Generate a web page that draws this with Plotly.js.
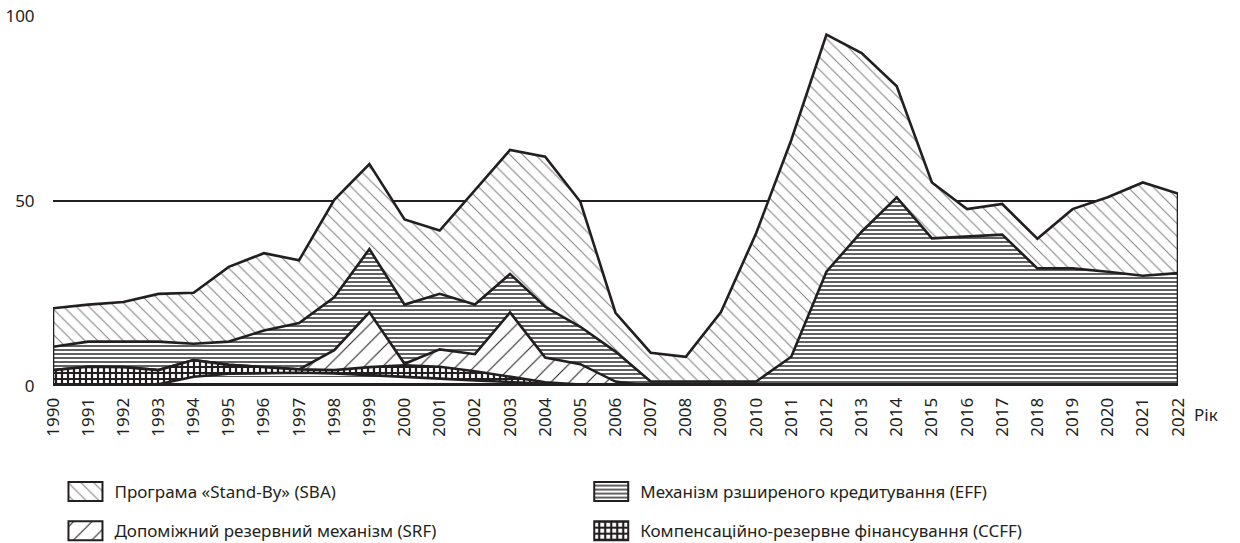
<!DOCTYPE html>
<html><head><meta charset="utf-8">
<script src="https://cdn.plot.ly/plotly-3.0.1.min.js"></script>
<style>html,body{margin:0;padding:0;background:#fff}</style>
</head><body>
<div id="chart" style="width:1240px;height:543px"></div>
<script>
// ---- data (per programme, stacked in the picture) ----
const years = [1990,1991,1992,1993,1994,1995,1996,1997,1998,1999,2000,2001,2002,2003,2004,2005,2006,2007,2008,2009,2010,2011,2012,2013,2014,2015,2016,2017,2018,2019,2020,2021,2022];
const sba   = [10.4,10,10.7,12.9,13.8,20.2,20.9,17,26.3,23,23,17.1,31,33.5,40.6,33.8,10.5,7.8,6.7,18.8,40.1,58.6,64.1,48.3,30,15.1,7.4,8.3,8,16,20.1,25.2,21.5];
const eff   = [6.3,6.8,6.9,7.7,4.4,6.3,9.9,12.5,14.3,17.1,16,15,13.4,10.4,13.7,10.1,8.1,1.2,1.2,1.2,1.2,7.9,30.9,41.7,51,39.9,40.4,40.9,31.8,31.8,30.9,29.8,30.5];
const srf   = [0,0,0,0,0,0,0,0,5.4,14.8,0.4,4.7,4.6,17.4,6.7,5.5,1.2,0,0,0,0,0,0,0,0,0,0,0,0,0,0,0,0];
const ccff  = [4.3,5.2,5.1,3.8,4.5,2.4,1.6,0.9,0.9,2.1,3.1,3.2,2.5,1.5,0.5,0.2,0,0,0,0,0,0,0,0,0,0,0,0,0,0,0,0,0];
const other = [0,0,0,0.5,2.5,3.3,3.5,3.6,3.4,3.0,2.5,2.0,1.5,1.0,0.5,0.2,0,0,0,0,0,0,0,0,0,0,0,0,0,0,0,0,0];
const yTickVals = [0,50,100];
const names = {
  sba: 'Програма «Stand-By» (SBA)',
  eff: 'Механізм рзширеного кредитування (EFF)',
  srf: 'Допоміжний резервний механізм (SRF)',
  ccff: 'Компенсаційно-резервне фінансування (CCFF)',
  other: 'Інше'
};
const xTitle = 'Рік';

// ---- stacking ----
const add = (a,b) => a.map((v,i) => v + b[i]);
const lvOther = other.slice();
const lvCcff = add(lvOther, ccff);
const lvSrf  = add(lvCcff, srf);
const lvEff  = add(lvSrf, eff);
const lvSba  = add(lvEff, sba);

const INK = '#231f20';
function area(name, level, pattern, legendId, show){
  return {
    type:'scatter', mode:'lines', name:name,
    x:[years[0]].concat(years, [years[years.length-1]]),
    y:[0].concat(level, [0]),
    fill:'toself', fillcolor:'white',
    fillpattern: pattern,
    line:{color:INK, width:2.6},
    cliponaxis:false, hoverinfo:'skip',
    showlegend: show, legend: legendId, legendgroup: name
  };
}

const traces = [
  area(names.sba, lvSba, {shape:'\\', fgcolor:'#7e7e7e', bgcolor:'white', size:9, solidity:0.11}, 'legend', true),
  area(names.eff, lvEff, {shape:'-', fgcolor:'#3a3a3a', bgcolor:'white', size:4, solidity:0.4}, 'legend2', true),
  area(names.srf, lvSrf, {shape:'/', fgcolor:INK, bgcolor:'white', size:13, solidity:0.08}, 'legend', true),
  area(names.ccff, lvCcff, {shape:'+', fgcolor:INK, bgcolor:'white', size:6, solidity:0.6}, 'legend2', true),
  area(names.other, lvOther, {shape:'-', fgcolor:'#555', bgcolor:'white', size:7, solidity:0.14}, 'legend', false)
];

const legendBase = {orientation:'v', xref:'container', yref:'container', xanchor:'left', yanchor:'top', y:0.127,
  font:{family:'Noto Sans', size:17, color:INK}, bgcolor:'rgba(0,0,0,0)',
  tracegroupgap:14, itemwidth:40, traceorder:'grouped', itemclick:false, itemdoubleclick:false};

const layout = {
  width:1240, height:543,
  margin:{l:53, r:62, t:16, b:157, autoexpand:false},
  paper_bgcolor:'white', plot_bgcolor:'white',
  font:{family:'Noto Sans', size:17, color:INK},
  showlegend:true,
  xaxis:{range:[1990,2022], tickvals:years, ticktext:years.map(String), tickangle:-90,
    showgrid:false, zeroline:false, showline:false, ticks:'outside', ticklen:4, tickcolor:'rgba(0,0,0,0)',
    tickfont:{size:17}, fixedrange:true, automargin:false},
  yaxis:{range:[0,100], tickvals:yTickVals, showgrid:true, gridcolor:INK, gridwidth:1.6,
    zeroline:false, showline:false, ticks:'outside', ticklen:14, tickcolor:'rgba(0,0,0,0)',
    tickfont:{size:17}, fixedrange:true, automargin:false},
  legend: Object.assign({}, legendBase, {x:0.052}),
  legend2: Object.assign({}, legendBase, {x:0.476}),
  shapes:[{type:'line', xref:'paper', x0:0, x1:1, yref:'y', y0:0, y1:0, layer:'above',
    line:{color:INK, width:6}}],
  annotations:[{text:xTitle, xref:'paper', x:1, xshift:14, xanchor:'left',
    yref:'paper', y:-0.078, yanchor:'middle', showarrow:false, font:{size:17, color:INK}}]
};

Plotly.newPlot('chart', traces, layout, {staticPlot:true, displayModeBar:false}).then(function(gd){
  // enlarge legend swatches into framed boxes
  gd.querySelectorAll('.legend .traces, .legend2 .traces').forEach(function(t){
    t.querySelectorAll('.legendfill path').forEach(function(p){
      p.setAttribute('d','M4,-9.5h34v19h-34z');
    });
    t.querySelectorAll('.legendlines path').forEach(function(p){
      p.setAttribute('d','M4,-9.5h34v19h-34z');
      p.style.strokeWidth = '2px';
      p.style.fill = 'none';
    });
  });
});
</script>
</body></html>
